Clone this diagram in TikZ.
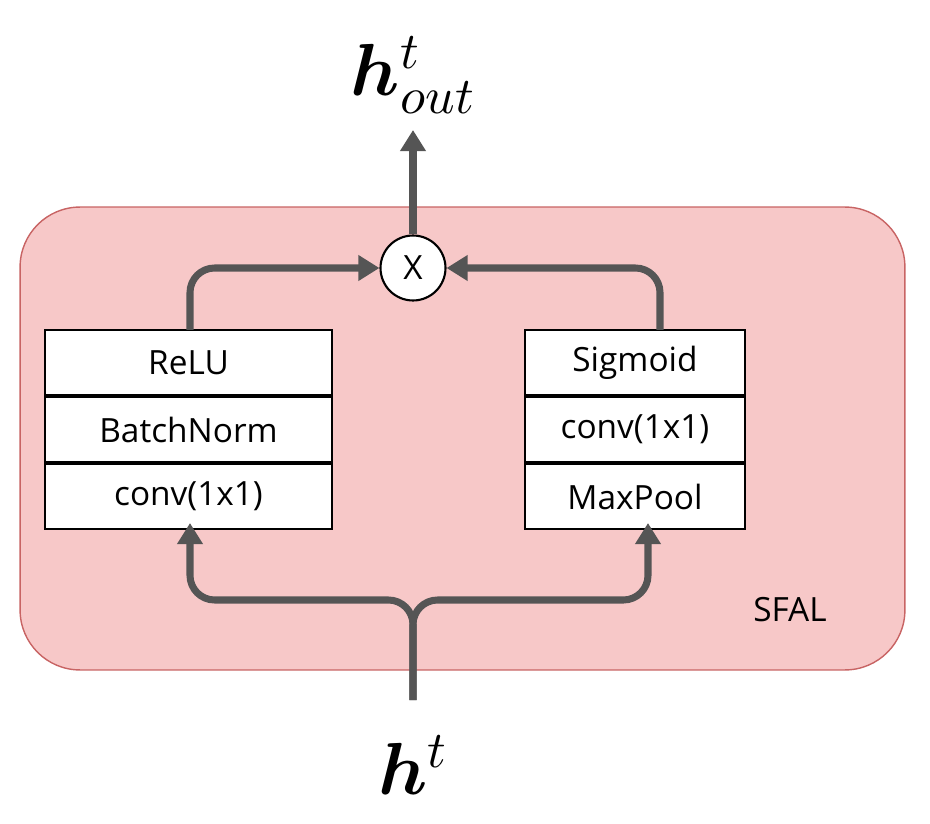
\documentclass[tikz,border=0pt]{standalone}
\usepackage{fontspec}
\setmainfont{Open Sans}
\usepackage{unicode-math}
\setmathfont{Latin Modern Math}
\usetikzlibrary{positioning,arrows.meta}
\definecolor{pinkbg}{HTML}{F7C8C8}
\definecolor{pinkline}{HTML}{C86464}
\definecolor{flow}{HTML}{555555}
\tikzset{
  cell/.style={draw=black,line width=1.2pt,fill=white,minimum width=5.74cm,minimum height=1.3cm,inner sep=0pt,font=\fontsize{19}{22}\selectfont},
  rcell/.style={cell,minimum width=4.4cm},
  flowline/.style={draw=flow,line width=4pt,rounded corners=14pt,-{Triangle[length=12pt,width=14pt]}}
}
\begin{document}
\begin{tikzpicture}[x=0.02cm,y=-0.02cm]
    \useasboundingbox (0,0) rectangle (930,824);
    \node[draw=pinkline,fill=pinkbg,line width=0.8pt,rounded corners=1.2cm,minimum width=17.7cm,minimum height=9.26cm] (sfal) at (462.5,438.5) {};
    \node[font=\fontsize{19}{22}\selectfont] (sfallabel) at (790,610) {SFAL};
    % left branch
    \node[cell] (relu) at (188.5,362.5) {ReLU};
    \node[cell,below=0pt of relu] (bn) {BatchNorm};
    \node[cell,below=0pt of bn] (convl) {conv(1x1)};
    % right branch
    \node[rcell] (sig) at (635,362.5) {Sigmoid};
    \node[rcell,below=0pt of sig] (convr) {conv(1x1)};
    \node[rcell,below=0pt of convr] (pool) {MaxPool};
    % product
    \node[draw=black,fill=white,circle,line width=1.2pt,minimum size=1.3cm,inner sep=0pt,font=\fontsize{19}{22}\selectfont] (mul) at (413,268) {X};
    \node (out) at (413,75) {\fontsize{42}{46}\selectfont$\symbfit{h}^{t}_{\symit{out}}$};
    \node (in) at (413,765) {\fontsize{42}{46}\selectfont$\symbfit{h}^{t}$};
    \coordinate (inbot) at (413,700);
    \draw[flowline] (mul) -- (413,130);
    \draw[flowline] (190,330) |- (mul);
    \draw[flowline] (660,330) |- (mul);
    \draw[flowline] (inbot) |- (300,600) -| (190,523);
    \draw[flowline] (inbot) |- (520,600) -| (648,523);
\end{tikzpicture}
\end{document}
